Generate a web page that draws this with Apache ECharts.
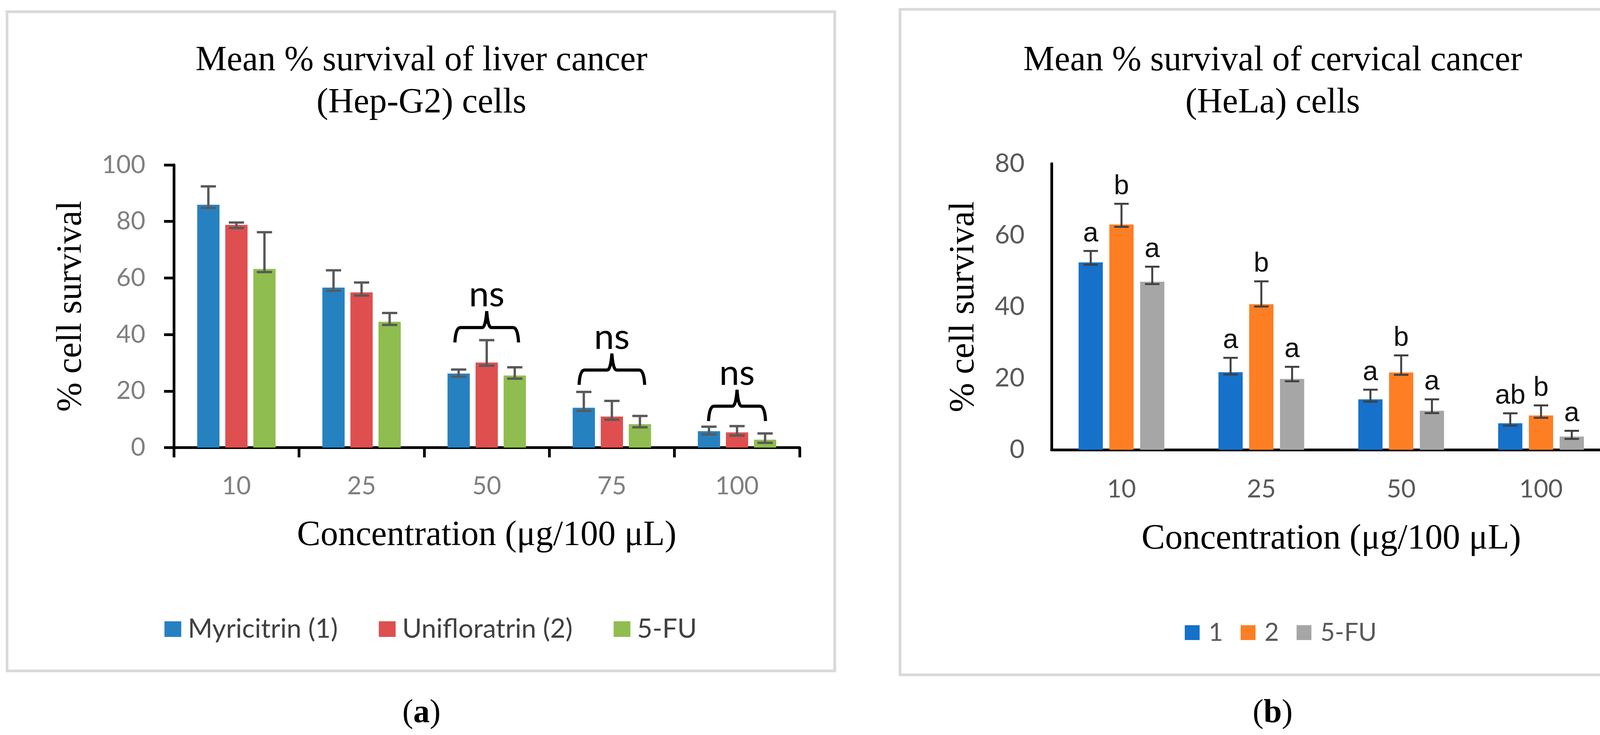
<!DOCTYPE html>
<html><head><meta charset="utf-8">
<script src="https://cdn.jsdelivr.net/npm/echarts@6/dist/echarts.min.js"></script>
<style>html,body{margin:0;padding:0;background:#fff;}.c{position:absolute;left:0;top:0;width:4240px;height:1881px;}</style>
</head><body>
<div id="ca" class="c"></div><div id="cb" class="c"></div>
<script>
// ---------- Panel (a): Hep-G2 ----------
const categoriesA = ['10', '25', '50', '75', '100'];
const myricitrin = [85.9, 56.6, 26.2, 14.1, 5.8];
const myricitrinErr = [6.5, 6.1, 1.4, 5.6, 1.6];
const unifloratrin = [78.8, 54.9, 30.1, 11.0, 5.4];
const unifloratrinErr = [0.8, 3.5, 7.9, 5.5, 2.2];
const fuA = [63.2, 44.5, 25.5, 8.3, 2.8];
const fuAErr = [13.0, 3.1, 2.9, 2.9, 2.2];
const nsCategories = [2, 3, 4];
const nsBraceBase = [37.2, 22.2, 9.4];
const nsText = 'ns';
const ticksA = { min: 0, max: 100, interval: 20 };

// ---------- Panel (b): HeLa ----------
const categoriesB = ['10', '25', '50', '100'];
const cmp1 = [52.4, 21.7, 14.1, 7.4];
const cmp1Err = [3.2, 4.0, 2.7, 2.8];
const cmp2 = [63.0, 40.7, 21.6, 9.6];
const cmp2Err = [5.8, 6.4, 4.8, 2.8];
const fuB = [47.0, 19.8, 10.9, 3.7];
const fuBErr = [4.2, 3.4, 3.2, 1.6];
const letters1 = ['a', 'a', 'a', 'ab'];
const letters2 = ['b', 'b', 'b', 'b'];
const lettersFU = ['a', 'a', 'a', 'a'];
const ticksB = { min: 0, max: 80, interval: 20 };

const SERIF = '"Liberation Serif", "DejaVu Serif", serif';
const SANS = 'Lato, "Noto Sans", sans-serif';

function errorSeries(vals, errs, idx, cfg, letters) {
  return {
    type: 'custom', silent: true, z: 5,
    data: vals.map((v, i) => [i, v, errs[i]]),
    renderItem(params, api) {
      const c = api.value(0), v = api.value(1), e = api.value(2);
      const b = api.coord([c, v]), t = api.coord([c, v + e]);
      const x = b[0] + (idx - 1) * cfg.step;
      const yb = b[1] + cfg.lowOff;
      const hw = cfg.capW / 2;
      const st = { stroke: cfg.color, lineWidth: cfg.lw };
      const ch = [
        { type: 'line', shape: { x1: x, y1: yb, x2: x, y2: t[1] }, style: st },
        { type: 'line', shape: { x1: x - hw, y1: t[1], x2: x + hw, y2: t[1] }, style: st },
        { type: 'line', shape: { x1: x - hw, y1: yb, x2: x + hw, y2: yb }, style: st }
      ];
      if (letters) {
        ch.push({ type: 'text', x: x, y: t[1] - cfg.labOff,
          style: { text: letters[params.dataIndex], fill: '#111', fontSize: 70,
            fontFamily: '"Liberation Sans", Arial, sans-serif', align: 'center', verticalAlign: 'middle' } });
      }
      return { type: 'group', children: ch };
    }
  };
}

const braceWidths = [163, 168, 146];
const braceSeries = {
  type: 'custom', silent: true, z: 6,
  data: nsCategories.map((c, i) => [c, nsBraceBase[i]]),
  renderItem(params, api) {
    const p = api.coord([api.value(0), api.value(1)]);
    const w = braceWidths[params.dataIndex];
    const x0 = p[0] - w / 2, x1 = p[0] + w / 2, xm = p[0];
    const yb = p[1], yh = p[1] - 38, yt = p[1] - 80;
    const d = `M${x0},${yb} Q${x0 + 2},${yh} ${x0 + 14},${yh} L${xm - 12},${yh} Q${xm - 3},${yh} ${xm},${yt} Q${xm + 3},${yh} ${xm + 12},${yh} L${x1 - 14},${yh} Q${x1 - 2},${yh} ${x1},${yb}`;
    return { type: 'group', children: [
      { type: 'path', shape: { pathData: d }, style: { stroke: '#000', lineWidth: 8, fill: 'none' } },
      { type: 'text', x: xm, y: yt - 42, style: { text: nsText, fill: '#000', fontSize: 92, fontFamily: SANS, align: 'center', verticalAlign: 'middle' } }
    ] };
  }
};

function panelGraphics(cx, title, letter, rect) {
  return [
    { type: 'rect', shape: rect, style: { stroke: '#d9d9d9', lineWidth: 7, fill: 'none' }, z: 0 },
    { type: 'text', x: cx, y: 210, style: { text: title, fill: '#000', font: '90px ' + SERIF, lineHeight: 108, align: 'center', verticalAlign: 'middle' } },
    { type: 'text', x: cx, y: 1826, style: { text: '{p|(}{b|' + letter + '}{p|)}', align: 'center', verticalAlign: 'middle',
      rich: { p: { fontSize: 84, fontFamily: SERIF, fill: '#000' }, b: { fontSize: 84, fontFamily: SERIF, fontWeight: 'bold', fill: '#000' } } } }
  ];
}

const cfgA = { step: 57 * 1.26, lowOff: 8, capW: 39, color: '#595959', lw: 6, labOff: 0 };
const optA = {
  animation: false,
  graphic: panelGraphics(1079, 'Mean % survival of liver cancer\n(Hep-G2) cells', 'a', { x: 18, y: 30, width: 2119, height: 1687 }),
  grid: { left: 445, top: 422, width: 1602, height: 723.5 },
  legend: {
    left: 421, top: 1576, padding: 0, itemWidth: 43, itemHeight: 40, itemGap: 105, icon: 'rect',
    textStyle: { fontFamily: SANS, fontSize: 68, color: '#404040', padding: [0, 0, 0, 12] },
    data: ['Myricitrin (1)', 'Unifloratrin (2)', '5-FU']
  },
  xAxis: {
    type: 'category', data: categoriesA,
    axisLine: { lineStyle: { color: '#000', width: 7 } },
    axisTick: { show: true, length: 25, lineStyle: { color: '#000', width: 7 } },
    axisLabel: { fontFamily: SANS, fontSize: 64, color: '#7f7f7f', margin: 67 },
    name: 'Concentration (μg/100 μL)', nameLocation: 'middle', nameGap: 181,
    nameTextStyle: { fontFamily: SERIF, fontSize: 90, color: '#000' }
  },
  yAxis: {
    type: 'value', min: ticksA.min, max: ticksA.max, interval: ticksA.interval,
    axisLine: { show: true, lineStyle: { color: '#000', width: 7 } },
    axisTick: { show: true, length: 25, lineStyle: { color: '#000', width: 7 } },
    splitLine: { show: false },
    axisLabel: { fontFamily: SANS, fontSize: 64, color: '#7f7f7f', margin: 73 },
    name: '% cell survival', nameLocation: 'middle', nameGap: 217, nameRotate: 90,
    nameTextStyle: { fontFamily: SERIF, fontSize: 90, color: '#000' }
  },
  series: [
    { type: 'bar', name: 'Myricitrin (1)', data: myricitrin, barWidth: 57, barGap: '26%', itemStyle: { color: '#2681c1' } },
    { type: 'bar', name: 'Unifloratrin (2)', data: unifloratrin, barWidth: 57, barGap: '26%', itemStyle: { color: '#df4f4f' } },
    { type: 'bar', name: '5-FU', data: fuA, barWidth: 57, barGap: '26%', itemStyle: { color: '#8fbd4f' } },
    errorSeries(myricitrin, myricitrinErr, 0, cfgA),
    errorSeries(unifloratrin, unifloratrinErr, 1, cfgA),
    errorSeries(fuA, fuAErr, 2, cfgA),
    braceSeries
  ]
};

const cfgB = { step: 62 * 1.27, lowOff: 6, capW: 37, color: '#404040', lw: 5, labOff: 44 };
const optB = {
  animation: false,
  graphic: panelGraphics(3258, 'Mean % survival of cervical cancer\n(HeLa) cells', 'b', { x: 2304, y: 24, width: 1911, height: 1703 }),
  grid: { left: 2692, top: 419, width: 1432, height: 732 },
  legend: {
    left: 3033, top: 1587, padding: 0, itemWidth: 38, itemHeight: 38, itemGap: 45, icon: 'rect',
    textStyle: { fontFamily: SANS, fontSize: 64, color: '#595959', padding: [0, 0, 0, 18] },
    data: ['1', '2', '5-FU']
  },
  xAxis: {
    type: 'category', data: categoriesB,
    axisLine: { lineStyle: { color: '#000', width: 7 } },
    axisTick: { show: false },
    axisLabel: { fontFamily: SANS, fontSize: 64, color: '#595959', margin: 69 },
    name: 'Concentration (μg/100 μL)', nameLocation: 'middle', nameGap: 184,
    nameTextStyle: { fontFamily: SERIF, fontSize: 90, color: '#000' }
  },
  yAxis: {
    type: 'value', min: ticksB.min, max: ticksB.max, interval: ticksB.interval,
    axisLine: { show: true, lineStyle: { color: '#000', width: 7 } },
    axisTick: { show: false },
    splitLine: { show: false },
    axisLabel: { fontFamily: SANS, fontSize: 66, color: '#595959', margin: 69 },
    name: '% cell survival', nameLocation: 'middle', nameGap: 179, nameRotate: 90,
    nameTextStyle: { fontFamily: SERIF, fontSize: 90, color: '#000' }
  },
  series: [
    { type: 'bar', name: '1', data: cmp1, barWidth: 62, barGap: '27%', itemStyle: { color: '#1571c9' } },
    { type: 'bar', name: '2', data: cmp2, barWidth: 62, barGap: '27%', itemStyle: { color: '#fd7e23' } },
    { type: 'bar', name: '5-FU', data: fuB, barWidth: 62, barGap: '27%', itemStyle: { color: '#a6a6a6' } },
    errorSeries(cmp1, cmp1Err, 0, cfgB, letters1),
    errorSeries(cmp2, cmp2Err, 1, cfgB, letters2),
    errorSeries(fuB, fuBErr, 2, cfgB, lettersFU)
  ]
};

echarts.init(document.getElementById('ca'), null, { renderer: 'canvas' }).setOption(optA);
echarts.init(document.getElementById('cb'), null, { renderer: 'canvas' }).setOption(optB);
</script>
</body></html>
